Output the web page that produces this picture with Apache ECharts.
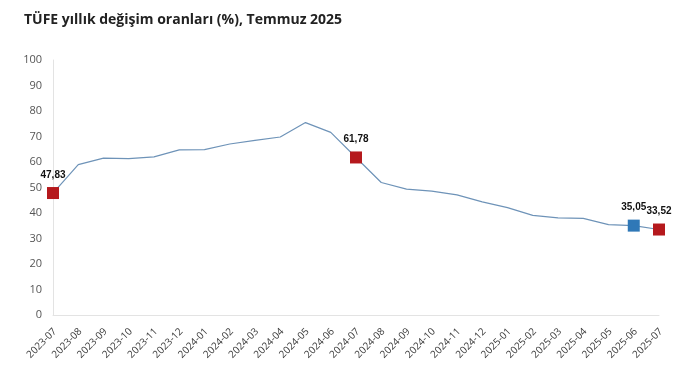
<!DOCTYPE html>
<html><head><meta charset="utf-8">
<script src="https://cdn.jsdelivr.net/npm/echarts@6/dist/echarts.min.js"></script>
<style>html,body{margin:0;padding:0;background:#fff}#c{width:688px;height:374px}</style>
</head><body><div id="c"></div>
<script>
const categories = ['2023-07','2023-08','2023-09','2023-10','2023-11','2023-12','2024-01','2024-02','2024-03','2024-04','2024-05','2024-06','2024-07','2024-08','2024-09','2024-10','2024-11','2024-12','2025-01','2025-02','2025-03','2025-04','2025-05','2025-06','2025-07'];
const values = [47.83,58.94,61.53,61.36,61.98,64.77,64.86,67.07,68.50,69.80,75.45,71.60,61.78,51.97,49.38,48.58,47.09,44.38,42.12,39.05,38.10,37.86,35.41,35.05,33.52];
const redIdx = [0, 12, 24];
const blueIdx = [23];
const yTicks = [0,10,20,30,40,50,60,70,80,90,100];

const fmt = v => v.toFixed(2).replace('.', ',');
const data = values.map((v, i) => {
  if (redIdx.includes(i) || blueIdx.includes(i)) {
    return {
      value: v,
      symbol: 'rect',
      symbolSize: 12,
      itemStyle: { color: redIdx.includes(i) ? '#b5191d' : '#2f78b7' },
      label: { show: true, position: 'top', distance: 7, formatter: fmt(v),
        color: '#111', fontWeight: 'bold', fontSize: 10, fontFamily: 'Liberation Sans' }
    };
  }
  return { value: v, symbol: 'none' };
});

const chart = echarts.init(document.getElementById('c'));
chart.setOption({
  animation: false,
  title: { text: 'TÜFE yıllık değişim oranları (%), Temmuz 2025', left: 19, top: 8,
    textStyle: { fontFamily: 'Open Sans', fontWeight: 'bold', fontSize: 14, color: '#222' } },
  grid: { left: 53, right: 29, top: 60, bottom: 59 },
  xAxis: { type: 'category', data: categories, boundaryGap: false,
    axisLine: { lineStyle: { color: '#e3e3e3' } }, axisTick: { show: false },
    axisLabel: { rotate: 45, color: '#3a3a3a', fontSize: 10, fontFamily: 'Open Sans', margin: 17, padding: [0, -3, 0, 0], interval: 0 } },
  yAxis: { type: 'value', min: yTicks[0], max: yTicks[yTicks.length-1], interval: 10,
    axisLine: { show: true, lineStyle: { color: '#e3e3e3' } }, axisTick: { show: false },
    splitLine: { show: false },
    axisLabel: { color: '#555', fontSize: 11, fontFamily: 'Open Sans', margin: 11 } },
  series: [{ type: 'line', data: data, showSymbol: true,
    lineStyle: { color: '#6e93b8', width: 1.2 }, itemStyle: { color: '#6e93b8' } }]
});
</script></body></html>
